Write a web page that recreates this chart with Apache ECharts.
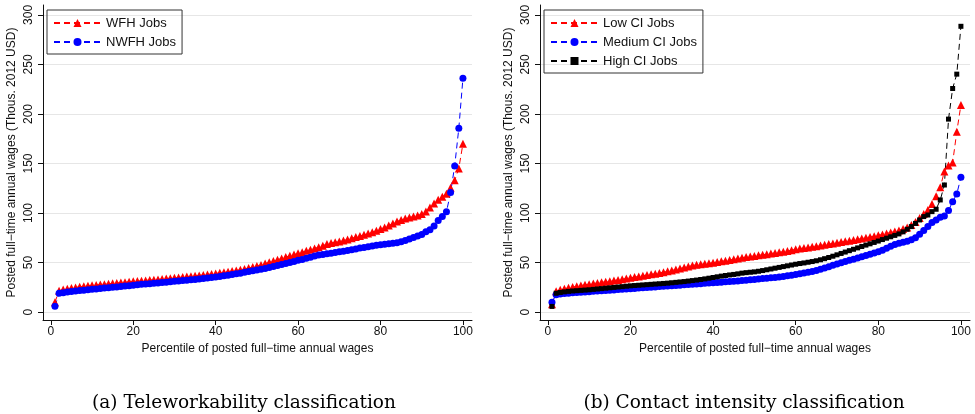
<!DOCTYPE html>
<html>
<head>
<meta charset="utf-8">
<script src="https://cdn.jsdelivr.net/npm/echarts@6/dist/echarts.min.js"></script>
<style>
  html, body { margin: 0; padding: 0; background: #fff; }
  #chart { width: 975px; height: 414px; }
</style>
</head>
<body>
<div id="chart"></div>
<script>
// percentile of posted wages (x)
const percentiles = [1,2,3,4,5,6,7,8,9,10,11,12,13,14,15,16,17,18,19,20,
  21,22,23,24,25,26,27,28,29,30,31,32,33,34,35,36,37,38,39,40,
  41,42,43,44,45,46,47,48,49,50,51,52,53,54,55,56,57,58,59,60,
  61,62,63,64,65,66,67,68,69,70,71,72,73,74,75,76,77,78,79,80,
  81,82,83,84,85,86,87,88,89,90,91,92,93,94,95,96,97,98,99,100];

// panel (a): teleworkability
const wfhJobs = [10,21.5,22.8,23.6,24.3,24.9,25.5,26,26.5,27,
  27.4,27.8,28.2,28.6,29,29.4,29.8,30.2,30.6,31,
  31.3,31.6,32,32.3,32.7,33,33.4,33.8,34.2,34.6,
  35,35.4,35.8,36.2,36.6,37,37.5,38,38.5,39,
  39.6,40.2,40.8,41.4,42,42.8,43.6,44.5,45.5,46.5,
  47.5,49,50.3,51.5,52.8,54.2,55.5,56.8,58,59.3,
  60.5,61.8,63,64.3,65.5,67,68.7,69.8,70.5,71.3,
  72.2,73.3,74.5,75.7,76.8,78,79.3,80.7,82.2,83.8,
  85.5,87.3,89.5,91.5,93,94.5,95.5,96.5,97.5,99,
  101.5,105.5,109.5,113.5,116.5,119.5,125.5,133,145,170];
const nwfhJobs = [6,19,19.6,20.2,20.8,21.3,21.7,22.1,22.5,23,
  23.4,23.8,24.2,24.6,25,25.4,25.8,26.2,26.6,27.2,
  27.6,28,28.3,28.7,29,29.4,29.8,30.2,30.6,31,
  31.4,31.8,32.2,32.6,33,33.4,33.9,34.4,34.9,35.4,
  36,36.6,37.3,38,38.6,39.3,40.2,41,41.7,42.5,
  43.3,44.1,45,46,47,48,49,50,51,52.2,
  53.2,54.3,55.4,56.5,57.5,58.2,58.9,59.5,60.2,60.8,
  61.5,62.2,63,63.8,64.6,65.3,66,66.7,67.4,68,
  68.5,69,69.4,70,71,72.3,73.8,75.3,76.8,78.3,
  81,83,87,92.5,96.5,101.2,120.6,147.5,185.5,236];

// panel (b): contact intensity
const lowCiJobs = [8,21,22.5,23.5,24.5,25.3,26,26.8,27.5,28.2,
  28.8,29.4,30,30.6,31.2,31.8,32.5,33.2,33.9,34.6,
  35.3,36,36.7,37.4,38.1,38.8,39.5,40.3,41.1,42,
  43,44,45,46,47,47.7,48.2,48.7,49.2,49.8,
  50.5,51.2,51.9,52.6,53.3,54,54.8,55.5,56.1,56.7,
  57.3,57.9,58.5,59.1,59.7,60.3,61,61.7,62.4,63.5,
  64.1,64.7,65.3,65.9,66.5,67.2,67.9,68.6,69.3,70,
  70.7,71.4,72.1,72.8,73.5,74.2,75,75.8,76.6,77.5,
  78.4,79.3,80.3,81.3,82.4,83.8,85.4,88,91,95,
  99,103,109,117,126,142,148,151,182,209];
const mediumCiJobs = [10,17.5,18.2,18.7,19.1,19.4,19.7,20,20.3,20.6,
  20.9,21.2,21.5,21.8,22.1,22.4,22.7,23,23.3,23.6,
  23.9,24.2,24.5,24.8,25.1,25.4,25.7,26,26.3,26.6,
  26.9,27.2,27.5,27.8,28.1,28.4,28.7,29,29.3,29.6,
  29.9,30.2,30.5,30.8,31.1,31.4,31.8,32.2,32.6,33,
  33.4,33.8,34.2,34.6,35,35.5,36,36.6,37.2,38,
  38.7,39.4,40.2,41,42,43.2,44.5,45.8,47.2,48.6,
  49.8,51,52.2,53.4,54.6,55.8,57,58.3,59.6,61,
  62.5,64.5,66.5,68.2,69.5,70.5,71.5,73,75,78.5,
  82.3,86.3,90.4,93,95.7,97,102.5,111.5,119.2,136];
const highCiJobs = [5.7,19,19.8,20.4,20.9,21.3,21.6,21.9,22.2,22.5,
  22.9,23.3,23.7,24.1,24.5,24.9,25.3,25.7,26.1,26.5,
  26.8,27.1,27.4,27.7,28,28.3,28.6,28.9,29.2,29.6,
  30,30.4,30.8,31.3,31.8,32.3,32.9,33.5,34.2,34.9,
  35.6,36.3,36.9,37.5,38,38.6,39.3,39.8,40.2,40.6,
  41.2,41.9,42.7,43.5,44.3,45.1,45.9,46.7,47.5,48.3,
  49,49.6,50.3,51,51.8,52.8,53.9,55.1,56.4,57.8,
  59.2,60.6,62,63.4,64.8,66.2,67.6,68.9,70.3,71.7,
  73.2,74.6,76,77.4,78.9,81,83.6,86.3,89.5,93,
  96.4,98,101.4,103.8,113.2,128.3,194.8,225.7,240.2,288.5];

const xTicks = [0, 20, 40, 60, 80, 100];
const yTicks = [0, 50, 100, 150, 200, 250, 300];

const yTitle = 'Posted full\u2212time annual wages (Thous. 2012 USD)';
const xTitle = 'Percentile of posted full\u2212time annual wages';
const captions = ['(a) Teleworkability classification', '(b) Contact intensity classification'];

const sans = 'Liberation Sans, Arial, sans-serif';
const serif = 'DejaVu Serif, serif';
const ink = '#111';

function pairs(ys) {
  return percentiles.map((p, i) => [p, ys[i]]);
}

function xAxisFor(idx) {
  return {
    gridIndex: idx, type: 'value', min: -1.9, max: 102.2,
    name: xTitle, nameLocation: 'middle', nameGap: 21,
    nameTextStyle: { color: ink, fontSize: 12, fontFamily: sans },
    axisLine: { onZero: false, lineStyle: { color: ink, width: 1 } },
    axisTick: { customValues: xTicks, length: 5, lineStyle: { color: ink } },
    axisLabel: { customValues: xTicks, color: ink, fontSize: 12, fontFamily: sans, margin: 6 },
    splitLine: { show: false }
  };
}

function yAxisFor(idx) {
  return {
    gridIndex: idx, type: 'value', min: -8, max: 310,
    name: yTitle, nameLocation: 'middle', nameGap: 25, nameRotate: 90,
    nameTextStyle: { color: ink, fontSize: 12, fontFamily: sans },
    axisLine: { show: true, onZero: false, lineStyle: { color: ink, width: 1 } },
    axisTick: { show: true, customValues: yTicks, length: 5, lineStyle: { color: ink } },
    axisLabel: { customValues: yTicks, rotate: 90, color: ink, fontSize: 12, fontFamily: sans, margin: 8 },
    splitLine: { show: true, lineStyle: { color: '#e6e6e6', width: 1 } }
  };
}

function lineSeries(name, ys, idx, color, symbol, size) {
  return {
    name: name, type: 'line', xAxisIndex: idx, yAxisIndex: idx,
    data: pairs(ys), symbol: symbol, symbolSize: size,
    lineStyle: { color: color, width: 1, type: [6, 4] },
    itemStyle: { color: color },
    animation: false
  };
}

function legendFor(names, left) {
  return {
    data: names, orient: 'vertical', left: left, top: 10,
    itemWidth: 47, itemHeight: 10, itemGap: 5,
    padding: [6, 6, 5, 6],
    borderColor: '#333', borderWidth: 1,
    textStyle: { color: ink, fontSize: 13, lineHeight: 14, fontFamily: sans },
    selectedMode: false
  };
}

const chart = echarts.init(document.getElementById('chart'));
chart.setOption({
  backgroundColor: '#fff',
  animation: false,
  title: [
    { text: captions[0], left: 239, top: 389, textAlign: 'center',
      textStyle: { fontFamily: serif, fontWeight: 'normal', fontSize: 18.5, color: '#000' } },
    { text: captions[1], left: 739, top: 389, textAlign: 'center',
      textStyle: { fontFamily: serif, fontWeight: 'normal', fontSize: 18.5, color: '#000' } }
  ],
  legend: [
    legendFor(['WFH Jobs', 'NWFH Jobs'], 47),
    legendFor(['Low CI Jobs', 'Medium CI Jobs', 'High CI Jobs'], 544)
  ],
  grid: [
    { left: 43, top: 5, width: 429, height: 315, outerBoundsMode: 'none' },
    { left: 540, top: 5, width: 430, height: 315, outerBoundsMode: 'none' }
  ],
  xAxis: [xAxisFor(0), xAxisFor(1)],
  yAxis: [yAxisFor(0), yAxisFor(1)],
  series: [
    lineSeries('WFH Jobs', wfhJobs, 0, '#ff0000', 'triangle', 8),
    lineSeries('NWFH Jobs', nwfhJobs, 0, '#0000ff', 'circle', 7),
    lineSeries('Low CI Jobs', lowCiJobs, 1, '#ff0000', 'triangle', 8),
    lineSeries('Medium CI Jobs', mediumCiJobs, 1, '#0000ff', 'circle', 7),
    lineSeries('High CI Jobs', highCiJobs, 1, '#000000', 'rect', 5)
  ]
});
</script>
</body>
</html>
